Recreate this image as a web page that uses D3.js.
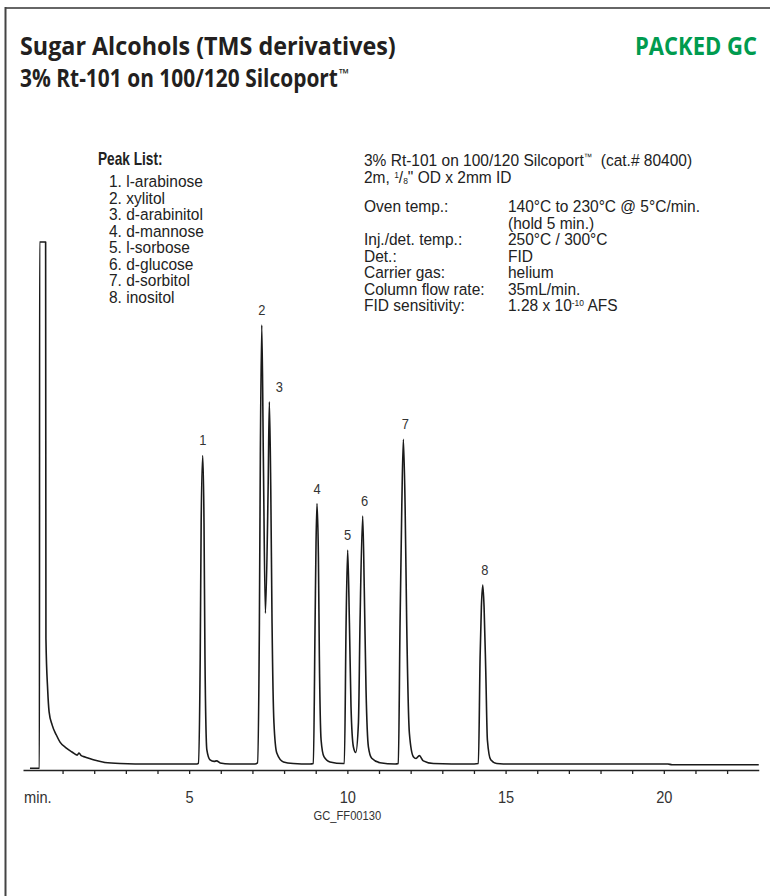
<!DOCTYPE html>
<html>
<head>
<meta charset="utf-8">
<script src="https://cdn.jsdelivr.net/npm/d3@7"></script>
<style>
  html, body { margin: 0; padding: 0; background: #fff; }
  svg { display: block; }
  .narrow { font-family: "Liberation Sans", Arial, sans-serif; }
  .head { font-family: "Open Sans", "Lato", sans-serif; font-weight: 700; }
</style>
</head>
<body>
<svg id="chart" width="770" height="896"></svg>
<script>
// ---- Chromatogram data -------------------------------------------------
// Detector trace as [retention time (min), signal (% of full scale)] vertices.
const tracePoints = [
  [-0.03, -0.8], [0.27, -0.8], [0.275, 100], [0.465, 100], [0.475, 24],
  [0.53, 14.2], [0.575, 10.0], [0.67, 7.5], [0.80, 5.6], [0.92, 4.2],
  [1.11, 3.1], [1.30, 2.3], [1.46, 1.7], [1.52, 2.1], [1.59, 1.6],
  [1.71, 1.35], [1.97, 0.8], [2.34, 0.3], [2.82, 0.1], [3.77, 0], [5.25, 0],
  // peak 1
  [5.29, 0.1], [5.35, 20.5], [5.38, 46.2], [5.43, 59.1], [5.47, 46.2],
  [5.50, 20.5], [5.56, 2.7], [5.66, 0.8], [5.79, 0.5], [5.87, 0.6],
  [5.98, 0.2], [6.29, 0], [7.08, 0],
  // peaks 2 and 3
  [7.16, 0.2], [7.22, 27.0], [7.25, 58.9], [7.295, 84.1], [7.345, 58.9],
  [7.41, 28.9], [7.495, 52.5], [7.535, 69.4], [7.58, 52.5], [7.62, 27.0],
  [7.68, 7.9], [7.77, 2.1], [7.98, 0.4], [8.29, 0.1], [8.82, 0],
  // peak 4
  [8.925, 0.1], [8.98, 27.0], [9.01, 42.3], [9.04, 49.9], [9.085, 39.7],
  [9.115, 20.6], [9.17, 4.6], [9.26, 1.4], [9.45, 0.4], [9.87, 0.1],
  // peaks 5 and 6
  [9.905, 0.1], [9.96, 27.0], [10.01, 41.0], [10.065, 27.0], [10.115, 11.0],
  [10.19, 3.3], [10.265, 2.2], [10.35, 7.9], [10.40, 27.0], [10.485, 47.5],
  [10.535, 33.3], [10.59, 14.2], [10.665, 3.3], [10.77, 1.1], [11.03, 0.25],
  [11.51, 0],
  // peak 7
  [11.61, 0.1], [11.665, 27.0], [11.72, 49.3], [11.77, 62.2], [11.825, 49.3],
  [11.875, 27.0], [11.96, 5.9], [12.085, 1.4], [12.17, 1.05], [12.275, 1.6],
  [12.40, 0.6], [12.72, 0.1], [13.88, 0],
  // peak 8
  [14.14, 0.1], [14.195, 20.6], [14.235, 30.1], [14.28, 34.3], [14.32, 30.1],
  [14.375, 17.4], [14.425, 4.6], [14.53, 0.8], [14.72, 0.1], [15.14, 0],
  [20.13, 0], [20.26, -0.15], [23.0, -0.15]
];

const peakNumbers = [1, 2, 3, 4, 5, 6, 7, 8];
const peakNames = ["l-arabinose", "xylitol", "d-arabinitol", "d-mannose",
                   "l-sorbose", "d-glucose", "d-sorbitol", "inositol"];
const peakTimes = [5.43, 7.295, 7.535, 9.04, 10.01, 10.485, 11.77, 14.28];
const peakHeights = [59.1, 84.1, 69.4, 49.9, 41.0, 47.5, 62.2, 34.3];

const minorTicks = d3.range(1, 23);
const labelledTicks = [5, 10, 15, 20];

const conditionLabels = ["Oven temp.:", "", "Inj./det. temp.:", "Det.:",
                         "Carrier gas:", "Column flow rate:", "FID sensitivity:"];
const conditionValues = ["140°C to 230°C @ 5°C/min.", "(hold 5 min.)",
                         "250°C / 300°C", "FID", "helium", "35mL/min.", "1.28 x 10|-10| AFS"];

// ---- Layout ------------------------------------------------------------
const svg = d3.select("#chart");
const ink = "#222";
const squeeze = 0.94;   // horizontal compression giving a condensed face
const bodySize = 16.5;

const x = d3.scaleLinear().domain([-0.25, 23.0]).range([23, 758.75]);
const y = d3.scaleLinear().domain([0, 100]).range([764, 242]);
const axisY = 770;

// condensed text placed at (px, py)
function narrow(parent, px, py, size, sq = squeeze) {
  return parent.append("text").attr("class", "narrow")
    .attr("transform", `translate(${px},${py}) scale(${sq},1)`)
    .attr("font-size", size).attr("fill", ink);
}

// bold heading text squeezed to a given width
function heading(px, py, str, width, color, anchor) {
  const t = svg.append("text").attr("class", "head").attr("font-size", 25)
    .attr("fill", color).attr("text-anchor", anchor || "start").text(str);
  const k = width / t.node().getComputedTextLength();
  t.attr("transform", `translate(${px},${py}) scale(${k},1)`);
  return t;
}

// page frame
svg.append("line").attr("x1", 5).attr("x2", 770).attr("y1", 8).attr("y2", 8)
  .attr("stroke", "#666").attr("stroke-width", 2);
svg.append("line").attr("x1", 5.5).attr("x2", 5.5).attr("y1", 7).attr("y2", 896)
  .attr("stroke", "#444").attr("stroke-width", 2);

// header
heading(20, 55, "Sugar Alcohols (TMS derivatives)", 376, "#231f20");
heading(20, 87, "3% Rt-101 on 100/120 Silcoport", 318, "#231f20");
svg.append("text").attr("class", "head").attr("x", 339).attr("y", 78)
  .attr("font-size", 13).attr("fill", "#231f20").text("™");
heading(757, 55, "PACKED GC", 122, "#009b4f", "end");

// peak list
narrow(svg, 98, 165, 18, 0.76).attr("font-weight", 700).text("Peak List:");
peakNumbers.forEach((d, i) => {
  narrow(svg, 109, 187 + i * 16.5, bodySize).text(`${d}. ${peakNames[i]}`);
});

// column / conditions block
const c1 = narrow(svg, 364, 166, bodySize);
c1.append("tspan").text("3% Rt-101 on 100/120 Silcoport");
c1.append("tspan").attr("font-size", 9).attr("dy", -6).text("™");
c1.append("tspan").attr("dy", 6).text("\u00a0\u00a0(cat.# 80400)");
const c2 = narrow(svg, 364, 183, bodySize);
c2.append("tspan").text("2m, ");
c2.append("tspan").attr("font-size", 9).attr("dy", -5).text("1");
c2.append("tspan").attr("dy", 5).text("/");
c2.append("tspan").attr("font-size", 9).attr("dy", 1).text("8");
c2.append("tspan").attr("dy", -1).text("\" OD x 2mm ID");

const condY = i => 212 + i * 16.5;
const valueX = 508;
conditionLabels.forEach((d, i) => { narrow(svg, 364, condY(i), bodySize).text(d); });
conditionValues.forEach((d, i) => {
  const el = narrow(svg, valueX, condY(i), bodySize);
  const parts = d.split("|");
  if (parts.length === 1) { el.text(d); return; }
  el.append("tspan").text(parts[0]);
  el.append("tspan").attr("font-size", 9).attr("dy", -5).text(parts[1]);
  el.append("tspan").attr("dy", 5).text(parts[2]);
});

// time axis
const axis = d3.axisBottom(x)
  .tickValues(minorTicks)
  .tickSize(4).tickSizeOuter(0).tickPadding(17)
  .tickFormat(d => labelledTicks.includes(d) ? d : "");
const gx = svg.append("g").attr("transform", `translate(0,${axisY})`).call(axis);
gx.select(".domain").attr("stroke", ink).attr("stroke-width", 1.5);
gx.selectAll(".tick line").attr("stroke", ink).attr("stroke-width", 1.3);
gx.selectAll(".tick text").attr("class", "narrow").attr("font-size", 17)
  .attr("fill", "#333").attr("transform", "scale(0.86,1)");
narrow(svg, 24, axisY + 33, 17, 0.86).attr("fill", "#333").text("min.");
narrow(svg, x(10), axisY + 50, 13, 0.86).attr("fill", "#333")
  .attr("text-anchor", "middle").text("GC_FF00130");

// trace
const line = d3.line().x(d => x(d[0])).y(d => y(d[1])).curve(d3.curveMonotoneX);
svg.append("path").datum(tracePoints)
  .attr("d", line).attr("fill", "none")
  .attr("stroke", "#1a1a1a").attr("stroke-width", 1.6).attr("stroke-linejoin", "round");

// peak numbers above each apex
const labelShift = [0, 0, 10, 0, 0, 2, 2, 2];
peakNumbers.forEach((d, i) => {
  narrow(svg, x(peakTimes[i]) + labelShift[i], y(peakHeights[i]) - 10, 15, 0.86)
    .attr("fill", "#333").attr("text-anchor", "middle").text(d);
});
</script>
</body>
</html>
